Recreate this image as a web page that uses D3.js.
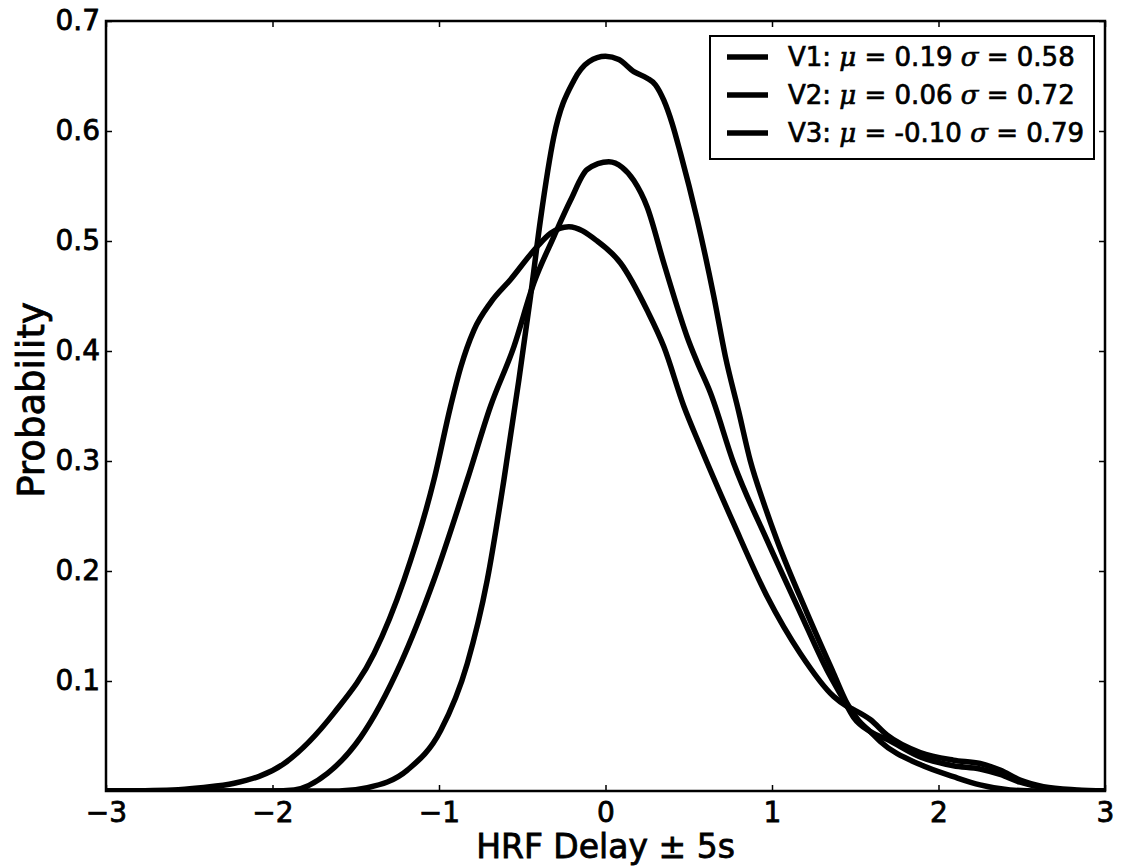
<!DOCTYPE html>
<html>
<head>
<meta charset="utf-8">
<script src="https://cdn.jsdelivr.net/npm/d3@7"></script>
<style>
  html, body { margin: 0; padding: 0; background: #fff; }
  svg { display: block; }
  text { font-family: "DejaVu Sans", sans-serif; fill: #000; }
</style>
</head>
<body>
<svg id="chart" width="1126" height="867"></svg>
<script>
// HRF delay distributions (kernel density estimates) for V1, V2, V3
const seriesNames = ["V1", "V2", "V3"];
const seriesMeans = ["0.19", "0.06", "-0.10"];
const seriesSigmas = ["0.58", "0.72", "0.79"];

const v1X = [-3.0, -1.6, -1.43, -1.19, -0.99, -0.83, -0.71, -0.61, -0.52, -0.45, -0.39, -0.31, -0.19, -0.10, 0.0, 0.08, 0.17, 0.25, 0.30, 0.35, 0.40, 0.45, 0.55, 0.65, 0.72, 0.80, 0.87, 0.95, 1.03, 1.21, 1.37, 1.45, 1.52, 1.59, 1.65, 1.89, 2.09, 2.25, 2.43, 2.6, 3.0];
const v1Y = [0, 0, 0.003, 0.019, 0.055, 0.116, 0.192, 0.283, 0.374, 0.45, 0.52, 0.595, 0.646, 0.663, 0.668, 0.665, 0.654, 0.648, 0.642, 0.628, 0.607, 0.58, 0.52, 0.45, 0.395, 0.345, 0.300, 0.262, 0.228, 0.162, 0.107, 0.08, 0.064, 0.054, 0.045, 0.024, 0.013, 0.0055, 0.001, 0, 0];

const v2X = [-3.0, -2.0, -1.87, -1.67, -1.47, -1.23, -1.03, -0.83, -0.69, -0.55, -0.43, -0.31, -0.21, -0.11, 0.02, 0.10, 0.17, 0.25, 0.35, 0.45, 0.49, 0.55, 0.63, 0.77, 0.97, 1.17, 1.33, 1.43, 1.49, 1.59, 1.69, 1.89, 2.09, 2.25, 2.37, 2.49, 2.63, 2.83, 3.0];
const v2Y = [0, 0, 0.001, 0.016, 0.049, 0.116, 0.192, 0.283, 0.35, 0.404, 0.462, 0.504, 0.537, 0.565, 0.572, 0.567, 0.555, 0.531, 0.48, 0.431, 0.413, 0.390, 0.362, 0.298, 0.228, 0.162, 0.11, 0.083, 0.067, 0.054, 0.047, 0.031, 0.023, 0.02, 0.015, 0.008, 0.003, 0.0005, 0];

const v3X = [-3.0, -2.6, -2.43, -2.23, -1.93, -1.63, -1.39, -1.21, -1.03, -0.93, -0.87, -0.79, -0.69, -0.57, -0.41, -0.33, -0.22, -0.05, 0.09, 0.25, 0.35, 0.47, 0.57, 0.77, 0.97, 1.17, 1.37, 1.45, 1.49, 1.59, 1.69, 1.89, 2.09, 2.25, 2.37, 2.49, 2.63, 2.83, 3.0];
const v3Y = [0, 0.001, 0.003, 0.007, 0.025, 0.071, 0.125, 0.192, 0.283, 0.35, 0.385, 0.419, 0.444, 0.465, 0.495, 0.507, 0.513, 0.50, 0.48, 0.437, 0.404, 0.35, 0.313, 0.243, 0.177, 0.125, 0.086, 0.077, 0.074, 0.065, 0.051, 0.035, 0.028, 0.025, 0.019, 0.01, 0.004, 0.001, 0];

const xTicks = [-3, -2, -1, 0, 1, 2, 3];
const yTicks = [0.1, 0.2, 0.3, 0.4, 0.5, 0.6, 0.7];
const xLabel = "HRF Delay \u00B1 5s";
const yLabel = "Probability";

const series = [
  { name: seriesNames[0], mean: seriesMeans[0], sigma: seriesSigmas[0], xs: v1X, ys: v1Y },
  { name: seriesNames[1], mean: seriesMeans[1], sigma: seriesSigmas[1], xs: v2X, ys: v2Y },
  { name: seriesNames[2], mean: seriesMeans[2], sigma: seriesSigmas[2], xs: v3X, ys: v3Y }
];

const plot = { left: 106, right: 1105, top: 21, bottom: 791 };
const svg = d3.select("#chart");

const x = d3.scaleLinear().domain([-3, 3]).range([plot.left, plot.right]);
const y = d3.scaleLinear().domain([0, 0.7]).range([plot.bottom, plot.top]);

svg.append("defs").append("clipPath").attr("id", "plotClip")
  .append("rect")
  .attr("x", plot.left).attr("y", plot.top)
  .attr("width", plot.right - plot.left).attr("height", plot.bottom - plot.top);

// density curves
const line = d3.line()
  .x(d => x(d[0]))
  .y(d => y(d[1]))
  .curve(d3.curveMonotoneX);

svg.append("g").attr("clip-path", "url(#plotClip)")
  .selectAll("path")
  .data(series)
  .join("path")
  .attr("d", s => line(s.xs.map((v, i) => [v, s.ys[i]])))
  .attr("fill", "none")
  .attr("stroke", "#000")
  .attr("stroke-width", 5.5)
  .attr("stroke-linejoin", "round");

// axes with inward ticks on all four sides
const fmtX = d => (d < 0 ? "\u2212" + Math.abs(d) : String(d));
const tickFont = 28;

const gx = svg.append("g").attr("transform", `translate(0,${plot.bottom})`)
  .call(d3.axisBottom(x).tickValues(xTicks).tickFormat(fmtX).tickSize(-6).tickPadding(11));
const gy = svg.append("g").attr("transform", `translate(${plot.left},0)`)
  .call(d3.axisLeft(y).tickValues(yTicks).tickFormat(d3.format(".1f")).tickSize(-6).tickPadding(6));
const gxTop = svg.append("g").attr("transform", `translate(0,${plot.top})`)
  .call(d3.axisTop(x).tickValues(xTicks).tickFormat("").tickSize(-6));
const gyRight = svg.append("g").attr("transform", `translate(${plot.right},0)`)
  .call(d3.axisRight(y).tickValues(yTicks).tickFormat("").tickSize(-6));

[gx, gy, gxTop, gyRight].forEach(g => {
  g.select(".domain").remove();
  g.selectAll(".tick line").attr("stroke", "#000").attr("stroke-width", 1.5);
  g.selectAll(".tick text")
    .attr("font-family", "DejaVu Sans, sans-serif")
    .attr("font-size", tickFont)
    .attr("fill", "#000")
    .attr("stroke", "#000").attr("stroke-width", 0.8);
});

// frame
svg.append("rect")
  .attr("x", plot.left).attr("y", plot.top)
  .attr("width", plot.right - plot.left).attr("height", plot.bottom - plot.top)
  .attr("fill", "none").attr("stroke", "#000").attr("stroke-width", 2.5);

// axis labels
svg.append("text")
  .attr("x", x(0)).attr("y", 858)
  .attr("text-anchor", "middle")
  .attr("font-size", 33)
  .attr("stroke", "#000").attr("stroke-width", 0.8)
  .text(xLabel);

svg.append("text")
  .attr("transform", `translate(44,400) rotate(-90)`)
  .attr("text-anchor", "middle")
  .attr("font-size", 37)
  .attr("stroke", "#000").attr("stroke-width", 0.8)
  .text(yLabel);

// legend
const legend = svg.append("g");
legend.append("rect")
  .attr("x", 710).attr("y", 36).attr("width", 384).attr("height", 123)
  .attr("fill", "#fff").attr("stroke", "#000").attr("stroke-width", 2);

const rowY = [57, 95, 133];
series.forEach((s, i) => {
  legend.append("line")
    .attr("x1", 727).attr("x2", 768)
    .attr("y1", rowY[i]).attr("y2", rowY[i])
    .attr("stroke", "#000").attr("stroke-width", 5.5);
  const t = legend.append("text")
    .attr("x", 788).attr("y", rowY[i] + 9)
    .attr("font-size", 26)
    .attr("stroke", "#000").attr("stroke-width", 0.7);
  t.append("tspan").text(s.name + ": ");
  t.append("tspan").attr("font-family", "DejaVu Serif, serif").attr("font-style", "italic").text("\u03BC");
  t.append("tspan").text(" = " + s.mean + " ");
  t.append("tspan").attr("font-family", "DejaVu Serif, serif").attr("font-style", "italic").text("\u03C3");
  t.append("tspan").text(" = " + s.sigma);
});
</script>
</body>
</html>
